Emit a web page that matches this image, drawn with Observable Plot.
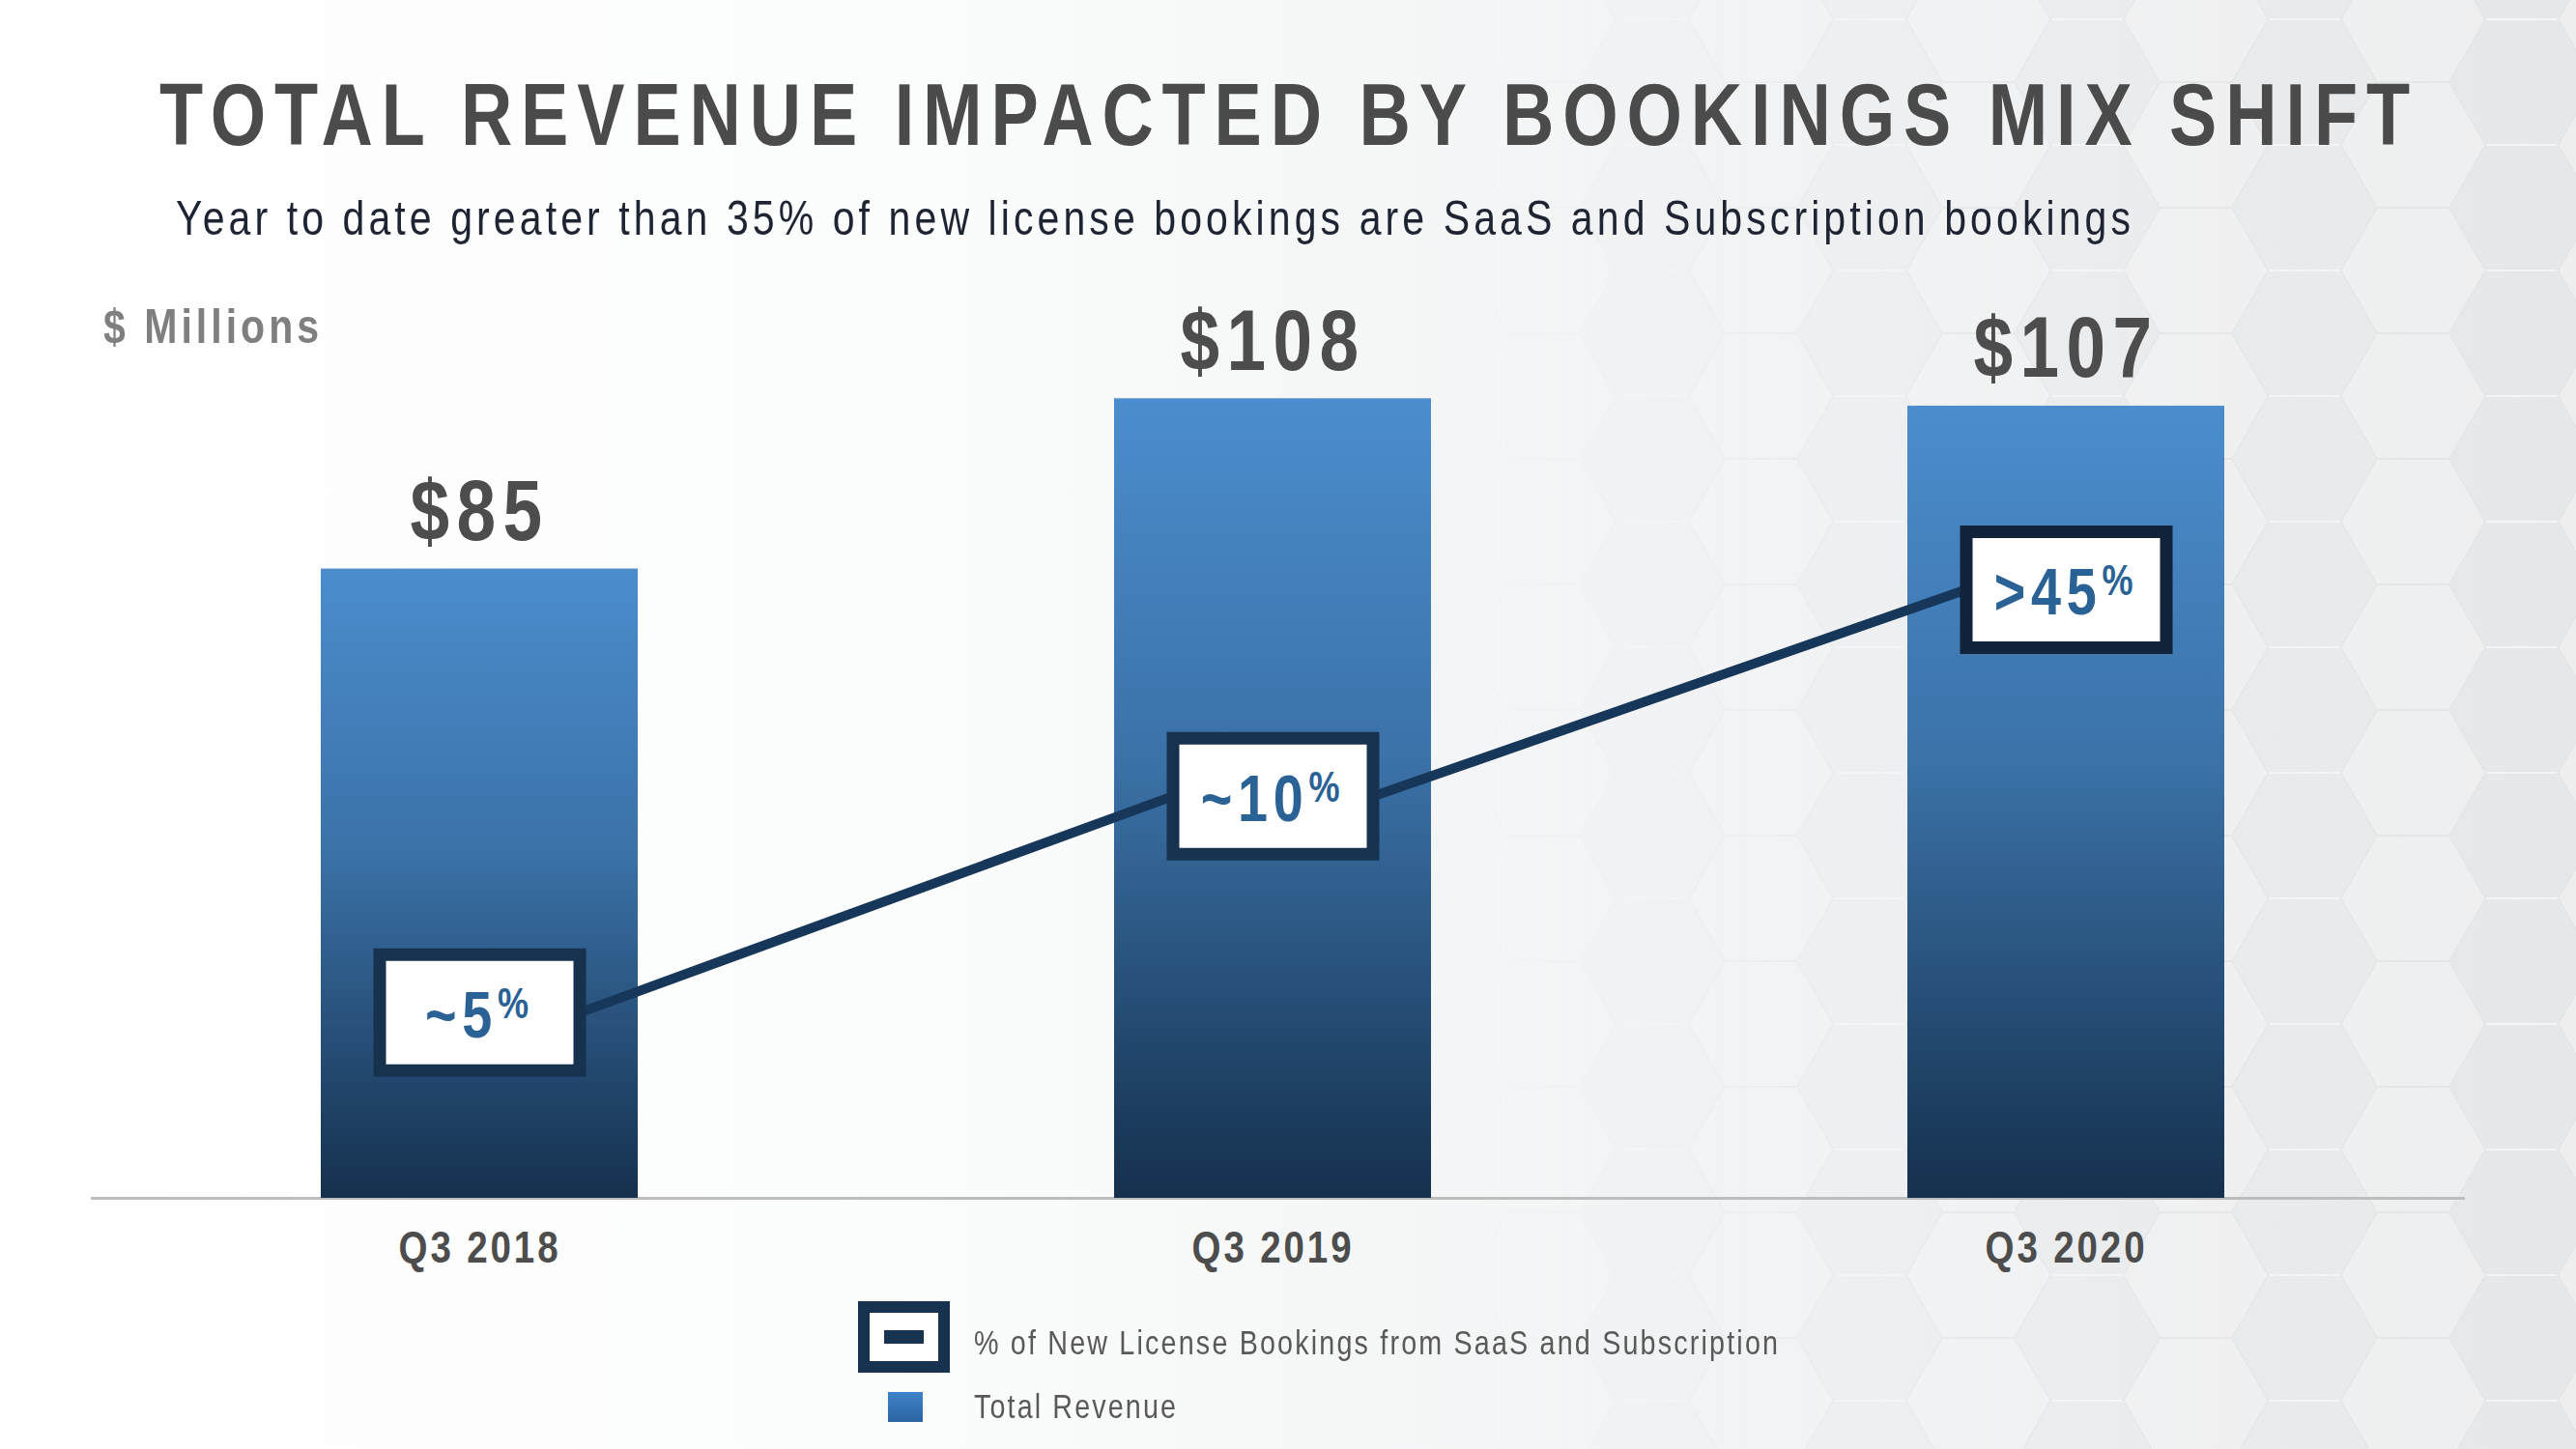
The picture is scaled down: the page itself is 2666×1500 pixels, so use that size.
<!DOCTYPE html>
<html>
<head>
<meta charset="utf-8">
<script src="https://cdn.jsdelivr.net/npm/d3@7"></script>
<script src="https://cdn.jsdelivr.net/npm/@observablehq/plot@0.6"></script>
<style>
  html, body { margin: 0; padding: 0; }
  body { width: 2666px; height: 1500px; overflow: hidden; }
  #page {
    position: relative; width: 2666px; height: 1500px;
    background: linear-gradient(90deg, #ffffff 0%, #fbfcfc 35%, #f1f3f4 65%, #eaebec 100%);
    font-family: "Liberation Sans", Arial, sans-serif;
  }
  #hex {
    position: absolute; left: 0; top: 0; width: 2666px; height: 1500px; opacity: 0.55;
    background-image: url("data:image/svg+xml;utf8,<svg xmlns='http://www.w3.org/2000/svg' width='225' height='130'><g stroke-width='2'><polygon points='0,65 37.5,0 112.5,0 150,65 112.5,130 37.5,130' fill='%23000' fill-opacity='0.03' stroke='%23ffffff' stroke-opacity='0.9'/><polygon points='112.5,0 150,-65 225,-65 262.5,0 225,65 150,65' fill='%23ffffff' fill-opacity='0.3' stroke='%23dcdedf'/><polygon points='112.5,130 150,65 225,65 262.5,130 225,195 150,195' fill='%23ffffff' fill-opacity='0.3' stroke='%23dcdedf'/><polygon points='-112.5,0 -75,-65 0,-65 37.5,0 0,65 -75,65' fill='%23ffffff' fill-opacity='0.3' stroke='%23dcdedf'/><polygon points='-112.5,130 -75,65 0,65 37.5,130 0,195 -75,195' fill='%23ffffff' fill-opacity='0.3' stroke='%23dcdedf'/></g></svg>");
    background-position: 60px 20px;
    -webkit-mask-image: linear-gradient(90deg, rgba(0,0,0,0) 0px, rgba(0,0,0,0) 1450px, rgba(0,0,0,0.8) 2150px, rgba(0,0,0,1) 2666px);
    mask-image: linear-gradient(90deg, rgba(0,0,0,0) 0px, rgba(0,0,0,0) 1450px, rgba(0,0,0,0.8) 2150px, rgba(0,0,0,1) 2666px);
  }
  .abs { position: absolute; white-space: nowrap; line-height: 1; }
  .narrow { transform: scaleX(0.82); transform-origin: 0 50%; }
  #title { top: 74px; left: 165px; font-size: 90px; font-weight: bold; color: #4b4b4b; }
  #subtitle { top: 201px; left: 182px; font-size: 50px; color: #1e2432; }
  #units { top: 313px; left: 107px; font-size: 50px; font-weight: bold; color: #7f7f7f; }
  #chart { position: absolute; left: 0; top: 250px; }
  .leg-text { font-size: 35px; color: #595959; }
  #legBox { left: 888px; top: 1347px; width: 71px; height: 50px; border: 12.5px solid #17324f; background: #ffffff; }
  #legDash { position: absolute; left: 15px; top: 18px; width: 41px; height: 14px; background: #17324f; }
  #legSq { left: 919px; top: 1441px; width: 36px; height: 31px; background: linear-gradient(180deg, #3f83c8, #2b64a3); }
</style>
</head>
<body>
<div id="page">
  <div id="hex"></div>
  <div id="title" class="abs narrow">TOTAL REVENUE IMPACTED BY BOOKINGS MIX SHIFT</div>
  <div id="subtitle" class="abs narrow">Year to date greater than 35% of new license bookings are SaaS and Subscription bookings</div>
  <div id="units" class="abs narrow">$ Millions</div>
  <div id="chart"></div>
  <div id="legBox" class="abs"><div id="legDash"></div></div>
  <div id="leg1" class="abs leg-text narrow"></div>
  <div id="legSq" class="abs"></div>
  <div id="leg2" class="abs leg-text narrow"></div>
</div>
<script>
// ---- data ----
const quarters = ["Q3 2018", "Q3 2019", "Q3 2020"];
const revenue = [85, 108, 107];                 // Total Revenue, $ Millions
const revenueLabels = ["$85", "$108", "$107"];
const saasShareLabels = ["~5%", "~10%", ">45%"]; // % of new license bookings from SaaS and Subscription
const saasMarkerLevel = [25.1, 54.3, 82.2];      // height of the share markers, read on the $M axis
const legendLabels = ["% of New License Bookings from SaaS and Subscription", "Total Revenue"];

const rows = quarters.map((q, i) => ({
  q, rev: revenue[i], revLabel: revenueLabels[i], share: saasShareLabels[i], level: saasMarkerLevel[i], i
}));

const FONT = '"Liberation Sans", Arial, sans-serif';
const NARROW = 0.82;
const W = 2666, H = 1090;
const BOX_HALF = 104;

// rectangular box symbol for the share markers
const boxSymbol = { draw(ctx) { ctx.rect(-103.5, -60, 207, 120); } };

// curve joining consecutive markers edge to edge (box right side to next box left side)
function edgeCurve(context) {
  let pts = [];
  return {
    areaStart() {}, areaEnd() {},
    lineStart() { pts = []; },
    point(x, y) { pts.push([x, y]); },
    lineEnd() {
      for (let k = 0; k < pts.length - 1; k++) {
        const a = pts[k], b = pts[k + 1];
        context.moveTo(a[0] + BOX_HALF, a[1]);
        context.lineTo(b[0] - BOX_HALF, b[1]);
      }
    }
  };
}

const chart = Plot.plot({
  width: W,
  height: H,
  marginLeft: 94,
  marginRight: 115,
  marginTop: 32,
  marginBottom: 100,
  style: { fontFamily: FONT, fontSize: "47px", fontWeight: "bold", color: "#4d4d4d", background: "transparent", overflow: "visible" },
  x: { domain: quarters, paddingInner: 0.6, paddingOuter: 0.2956, align: 0.49, tickSize: 0, tickPadding: 33, label: null },
  y: { domain: [0, 125], axis: null },
  marks: [
    Plot.ruleY([0], { stroke: "#bdbdbd", strokeWidth: 3 }),
    Plot.barY(rows, { x: "q", y: "rev", fill: "url(#barGrad)" }),
    Plot.text(rows, { x: "q", y: "rev", text: "revLabel", dy: -30, lineAnchor: "bottom",
      fontSize: 89, fontWeight: "bold", fill: "#4d4d4d" }),
    Plot.line(rows, { x: "q", y: "level", stroke: "#17375a", strokeWidth: 10, curve: edgeCurve }),
    Plot.dot(rows, { x: "q", y: "level", symbol: boxSymbol, r: 10, fill: "#ffffff",
      stroke: d => d.i === 2 ? "#10233a" : "#17324f", strokeWidth: 13 }),
    Plot.text(rows, { x: "q", y: "level", text: "share", lineAnchor: "middle", dy: 4,
      fontSize: 68, fontWeight: "bold", fill: "#2b6296" })
  ]
});

document.getElementById("chart").appendChild(chart);
const svg = d3.select(chart);

// gradient for bars
const defs = svg.insert("defs", ":first-child");
const g = defs.append("linearGradient").attr("id", "barGrad").attr("x1", 0).attr("y1", 0).attr("x2", 0).attr("y2", 1);
g.append("stop").attr("offset", "0%").attr("stop-color", "#4b8dcd");
g.append("stop").attr("offset", "45%").attr("stop-color", "#3b72a8");
g.append("stop").attr("offset", "100%").attr("stop-color", "#15304d");

// identify text groups by render order
const textGroups = chart.querySelectorAll(':scope > g[aria-label="text"]');
const revGroup = textGroups[0], shareGroup = textGroups[1];
const axisTexts = chart.querySelectorAll('g[aria-label^="x-axis"] text');

d3.select(revGroup).selectAll("text").style("letter-spacing", "9px");
d3.selectAll(axisTexts).style("letter-spacing", "3.5px");

// superscript % in share labels
d3.select(shareGroup).selectAll("text").each(function () {
  const t = d3.select(this);
  const s = t.text();
  const main = s.slice(0, -1), pct = s.slice(-1);
  t.text(null).style("letter-spacing", "7px");
  t.append("tspan").text(main);
  t.append("tspan").text(pct).attr("font-size", 44).attr("dy", -20);
});

// condense all chart text horizontally (narrow face)
svg.selectAll("text").each(function () {
  const tr = this.getAttribute("transform");
  if (tr) {
    this.setAttribute("transform", tr + ` scale(${NARROW},1)`);
  } else {
    const x = +this.getAttribute("x") || 0, y = +this.getAttribute("y") || 0;
    this.removeAttribute("x"); this.removeAttribute("y");
    this.setAttribute("transform", `translate(${x},${y}) scale(${NARROW},1)`);
  }
});

// legend texts
const l1 = document.getElementById("leg1"), l2 = document.getElementById("leg2");
l1.textContent = legendLabels[0];
l2.textContent = legendLabels[1];
l1.style.left = "1008px"; l1.style.top = "1372px";
l2.style.left = "1008px"; l2.style.top = "1438px";

// fit HTML texts to measured widths with letter spacing
function fit(el, target) {
  el.style.letterSpacing = "0px";
  const w = el.getBoundingClientRect().width;
  const n = el.textContent.length;
  el.style.letterSpacing = ((target - w) / ((n - 1) * NARROW)) + "px";
}
fit(document.getElementById("title"), 2329);
fit(document.getElementById("subtitle"), 2023);
fit(document.getElementById("units"), 223);
fit(l1, 832);
fit(l2, 209);
</script>
</body>
</html>
